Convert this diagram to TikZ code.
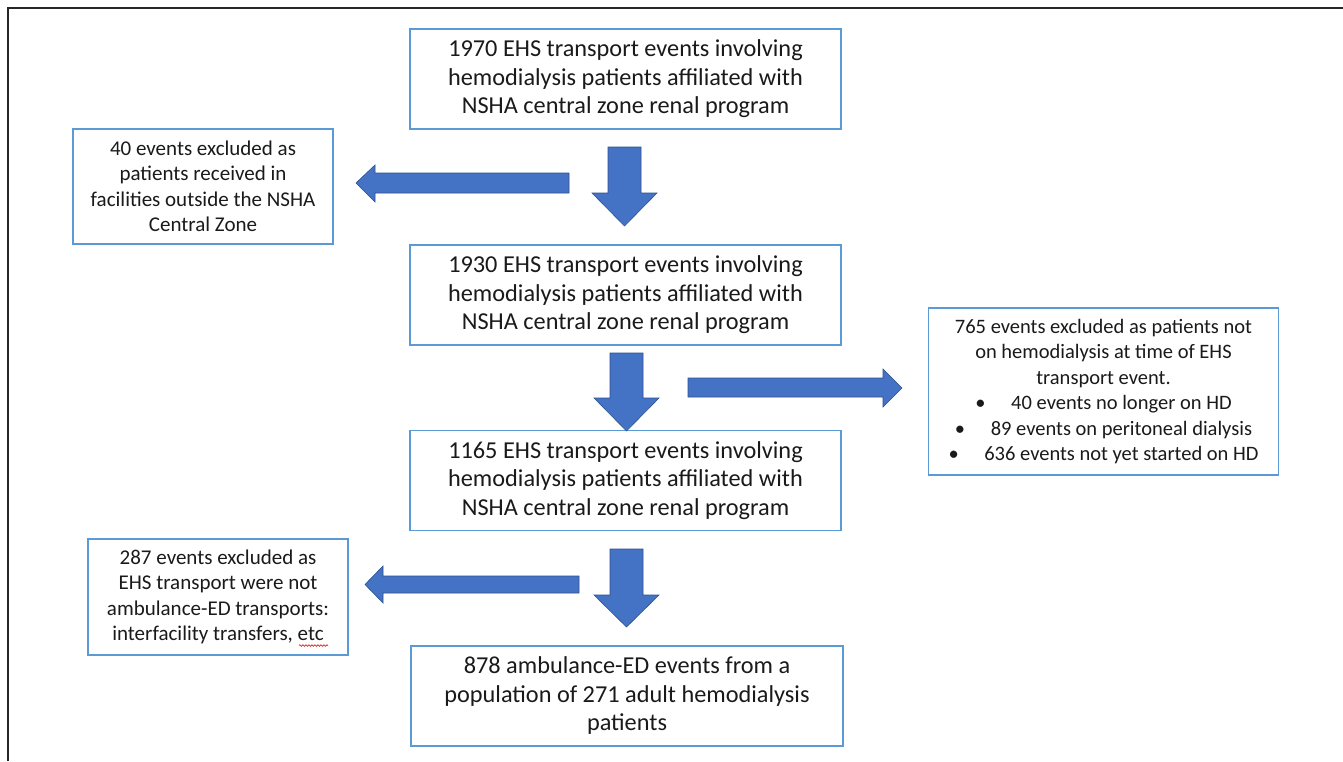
\documentclass[tikz,border=0pt]{standalone}
\usepackage{fontspec}
\setmainfont{Carlito}
\usetikzlibrary{decorations.pathmorphing}
\definecolor{boxblue}{HTML}{5B9BD5}
\definecolor{arrfill}{HTML}{4472C4}
\definecolor{arrline}{HTML}{2F528F}
\definecolor{txt}{HTML}{1A1A1A}
\begin{document}
\begin{tikzpicture}[x=1pt,y=-1pt,
  mainbox/.style={draw=boxblue,line width=1.4pt,fill=white,align=center,text=txt,
    font=\fontsize{24.3}{28.5}\selectfont,inner sep=0pt,minimum width=431pt,minimum height=100pt},
  sidebox/.style={draw=boxblue,line width=1.4pt,fill=white,align=center,text=txt,
    font=\fontsize{21}{25.5}\selectfont,inner sep=0pt},
  blockarrow/.style={fill=arrfill,draw=arrline,line width=0.6pt,line join=miter}]
\useasboundingbox (0,0) rectangle (1343,761);
\fill[white] (0,0) rectangle (1343,761);
% frame
\draw[line width=2pt,black!85] (8,761) -- (8,8) -- (1343,8);

% main boxes
\node[mainbox] (b1) at (625.5,79) {1970 EHS transport events involving\\hemodialysis patients affiliated with\\NSHA central zone renal program};
\node[mainbox] (b2) at (625.5,295) {1930 EHS transport events involving\\hemodialysis patients affiliated with\\NSHA central zone renal program};
\node[mainbox] (b3) at (625.5,480.5) {1165 EHS transport events involving\\hemodialysis patients affiliated with\\NSHA central zone renal program};
\node[mainbox,minimum width=432pt] (b4) at (627,696) {878 ambulance-ED events from a\\population of 271 adult hemodialysis\\patients};

% side boxes
\node[sidebox,minimum width=260pt,minimum height=115pt] (e1) at (203,186.5) {40 events excluded as\\patients received in\\facilities outside the NSHA\\Central Zone};
\node[sidebox,font=\fontsize{20.5}{25.5}\selectfont,minimum width=350pt,minimum height=167pt] (e2) at (1103.5,391.5) {765 events excluded as patients not\\on hemodialysis at time of EHS\\transport event.\\
\textbullet\hspace{1.25em}40 events no longer on HD\\
\textbullet\hspace{1.25em}89 events on peritoneal dialysis\\
\textbullet\hspace{1.25em}636 events not yet started on HD};
\node[sidebox,minimum width=260pt,minimum height=116pt] (e3) at (218,597) {287 events excluded as\\EHS transport were not\\ambulance-ED transports:\\interfacility transfers, etc};

% spell-check squiggle under "etc"
\coordinate (sq1) at (299,645.5);
\coordinate (sq2) at (328,645.5);
\draw[red!85!black,line width=0.6pt,decorate,decoration={snake,amplitude=0.8pt,segment length=3pt}] (sq1) -- (sq2);

% down arrows
\draw[blockarrow] (608,147) -- (641,147) -- (641,193) -- (657,193) -- (624.5,226) -- (592,193) -- (608,193) -- cycle;
\draw[blockarrow] (610,353) -- (643,353) -- (643,398) -- (659,398) -- (626.5,431) -- (594,398) -- (610,398) -- cycle;
\draw[blockarrow] (610,549) -- (643,549) -- (643,595) -- (659,595) -- (626.5,627) -- (594,595) -- (610,595) -- cycle;

% side arrows
\draw[blockarrow] (569,173) -- (569,193) -- (375,193) -- (375,202) -- (356,183) -- (375,165) -- (375,173) -- cycle;
\draw[blockarrow] (688,378) -- (883,378) -- (883,369) -- (902,388) -- (883,407) -- (883,397) -- (688,397) -- cycle;
\draw[blockarrow] (579,576) -- (579,593) -- (383,593) -- (383,603) -- (365,584.5) -- (383,566) -- (383,576) -- cycle;
\end{tikzpicture}
\end{document}
